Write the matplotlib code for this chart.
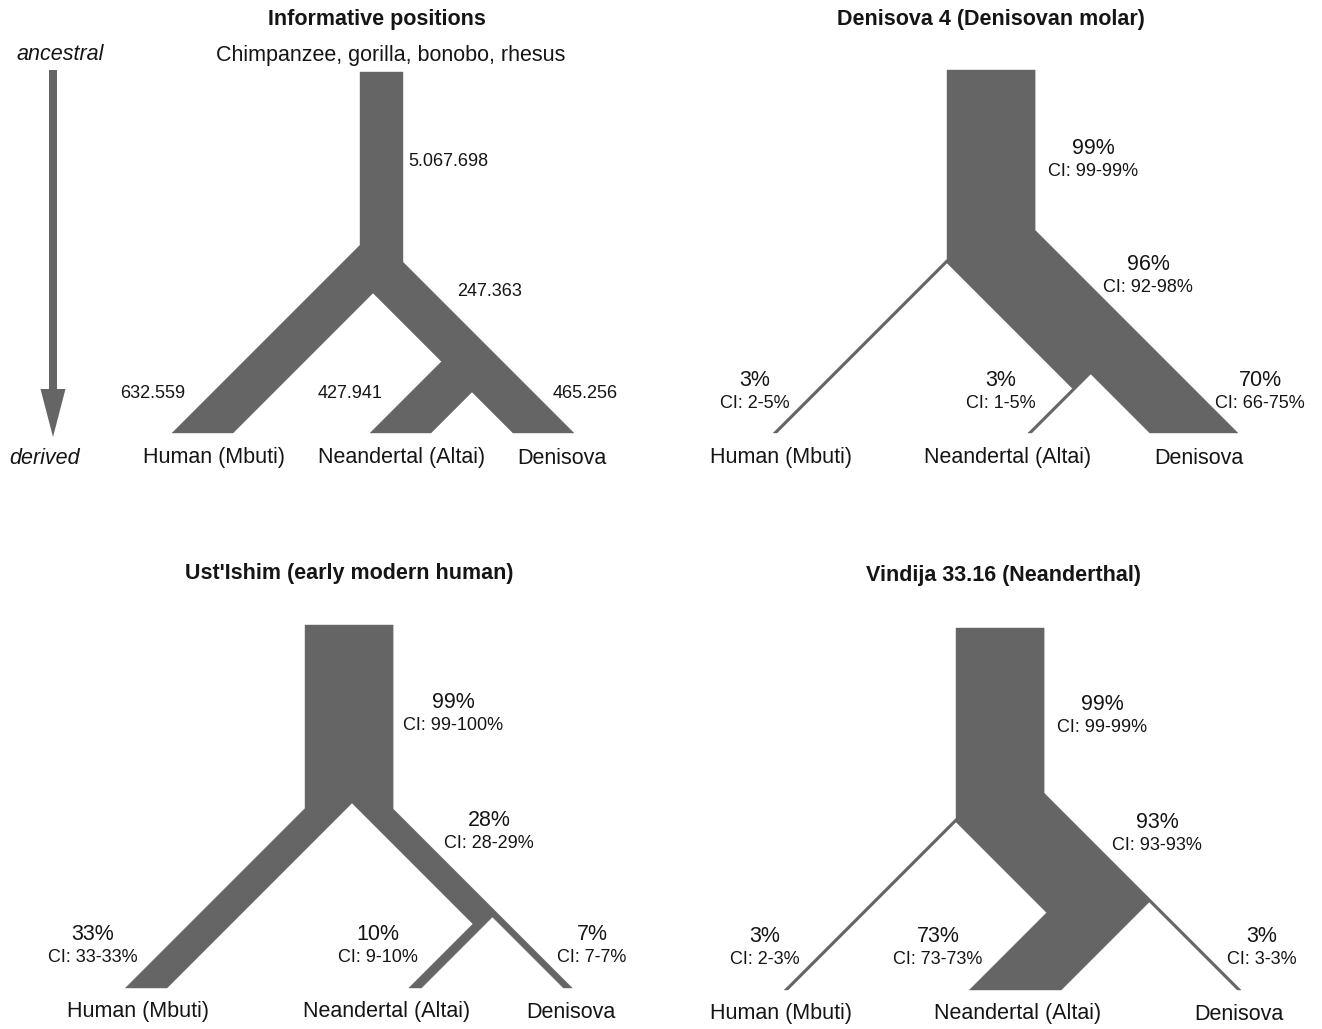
import numpy as np
import matplotlib
matplotlib.use("Agg")
import matplotlib.pyplot as plt
from matplotlib.patches import Polygon, FancyArrow

plt.rcParams['font.family'] = ['Liberation Sans', 'DejaVu Sans']

# ---------------- data ----------------
leaf_names = ["Human (Mbuti)", "Neandertal (Altai)", "Denisova"]
outgroup_label = "Chimpanzee, gorilla, bonobo, rhesus"
panel_titles = ["Informative positions", "Denisova 4 (Denisovan molar)",
                "Ust'Ishim (early modern human)", "Vindija 33.16 (Neanderthal)"]
# edge order: trunk, internal (Neand+Deni), Human, Neandertal, Denisova
informative_counts = [5067698, 247363, 632559, 427941, 465256]
den4_pct = [99, 96, 3, 3, 70]
den4_ci_lo = [99, 92, 2, 1, 66]
den4_ci_hi = [99, 98, 5, 5, 75]
ust_pct = [99, 28, 33, 10, 7]
ust_ci_lo = [99, 28, 33, 9, 7]
ust_ci_hi = [100, 29, 33, 10, 7]
vin_pct = [99, 93, 3, 73, 3]
vin_ci_lo = [99, 93, 2, 73, 3]
vin_ci_hi = [99, 93, 3, 73, 3]

# ---------------- style / layout ----------------
GRAY = '#656565'
TXT = '#151515'
K = 0.89            # px of band width per percent
FIXED_W = 43        # band width for the "informative positions" panel
BIG = 15.5
SMALL = 13

fig = plt.figure(figsize=(13.22, 10.29), dpi=100)
ax = fig.add_axes([0, 0, 1, 1])
ax.set_xlim(0, 1322)
ax.set_ylim(1029, 0)
ax.axis('off')

SQ2 = np.sqrt(2.0)
dL = np.array([-1.0, 1.0])
dR = np.array([1.0, 1.0])
nUL = np.array([-1.0, -1.0]) / SQ2
nUR = np.array([1.0, -1.0]) / SQ2


def intersect(p1, d1, p2, d2):
    A = np.array([d1, -d2]).T
    t, _ = np.linalg.solve(A, p2 - p1)
    return p1 + t * d1


def at_y(p, d, y):
    t = (y - p[1]) / d[1]
    return p + t * d


def draw_tree(xL, top, CA, yB, bottom, widths):
    wT, wAB, wH, wN, wD = widths
    CA = np.array(CA, float)
    vert = np.array([0.0, 1.0])
    # human band
    H_in_p, H_out_p = CA, CA + nUL * wH
    # internal band (to Neand/Deni split)
    AB_in_p, AB_out_p = CA, CA + nUR * wAB
    # denisova band aligned to outer edge of internal band
    D_out_p = AB_out_p
    D_in_p = CA + nUR * (wAB - wD)
    CB = at_y(D_in_p, dR, yB)
    N_in_p, N_out_p = CB, CB + nUL * wN

    T1 = np.array([xL, top])
    T2 = np.array([xL + wT, top])
    P1 = intersect(T1, vert, H_out_p, dL)
    P2 = at_y(H_out_p, dL, bottom)
    P3 = at_y(H_in_p, dL, bottom)
    P4 = intersect(AB_in_p, dR, N_out_p, dL)
    P5 = at_y(N_out_p, dL, bottom)
    P6 = at_y(N_in_p, dL, bottom)
    P7 = at_y(D_in_p, dR, bottom)
    P8 = at_y(D_out_p, dR, bottom)
    P9 = intersect(T2, vert, AB_out_p, dR)
    pts = [T1, P1, P2, P3, CA, P4, P5, P6, CB, P7, P8, P9, T2]
    ax.add_patch(Polygon(pts, closed=True, facecolor=GRAY, edgecolor=GRAY,
                         linewidth=0.3, joinstyle='miter'))


def t(x, y, s, size=BIG, **kw):
    kw.setdefault('ha', 'center')
    kw.setdefault('va', 'center')
    ax.text(x, y, s, fontsize=size, color=TXT, **kw)


def pct_label(x, y, p, lo, hi):
    t(x, y, f"{p}%", BIG)
    t(x, y + 23, f"CI: {lo}-{hi}%", SMALL)


def fmt(v):
    return f"{v:,}".replace(",", ".")


# ---------------- panel 1: informative positions ----------------
draw_tree(360, 72, (373, 293), 392, 433, [FIXED_W] * 5)
ax.add_patch(FancyArrow(53, 70, 0, 367, width=8, head_width=25, head_length=48,
                        length_includes_head=True, facecolor=GRAY, edgecolor='none'))
t(377, 19, panel_titles[0], BIG, fontweight='bold')
t(391, 55, outgroup_label)
t(60, 55, "ancestral", style='italic')
t(45, 458, "derived", style='italic')
t(408, 161, fmt(informative_counts[0]), SMALL, ha='left')
t(457, 292, fmt(informative_counts[1]), SMALL, ha='left')
t(153, 393, fmt(informative_counts[2]), SMALL)
t(350, 393, fmt(informative_counts[3]), SMALL)
t(585, 393, fmt(informative_counts[4]), SMALL)
for x, s in zip([214, 402, 562], leaf_names):
    t(x, 458, s)

# ---------------- panel 2: Denisova 4 ----------------
draw_tree(947, 70, (947, 263), 374, 433, [p * K for p in den4_pct])
t(991, 19, panel_titles[1], BIG, fontweight='bold')
for (x, y), p, lo, hi in zip([(1093, 149), (1148, 265), (755, 380), (1001, 380), (1260, 380)],
                             den4_pct, den4_ci_lo, den4_ci_hi):
    pct_label(x, y, p, lo, hi)
for x, s in zip([781, 1008, 1199], leaf_names):
    t(x, 458, s)

# ---------------- panel 3: Ust'Ishim ----------------
draw_tree(305, 625, (352, 803), 917, 988, [p * K for p in ust_pct])
t(349, 574, panel_titles[2], BIG, fontweight='bold')
for (x, y), p, lo, hi in zip([(453, 703), (489, 820), (93, 935), (378, 935), (592, 935)],
                             ust_pct, ust_ci_lo, ust_ci_hi):
    pct_label(x, y, p, lo, hi)
for x, s in zip([138, 387, 571], leaf_names):
    t(x, 1012, s)

# ---------------- panel 4: Vindija ----------------
draw_tree(956, 628, (956, 822), 902, 990, [p * K for p in vin_pct])
t(1003, 576, panel_titles[3], BIG, fontweight='bold')
for (x, y), p, lo, hi in zip([(1102, 705), (1157, 822), (765, 937), (938, 937), (1262, 937)],
                             vin_pct, vin_ci_lo, vin_ci_hi):
    pct_label(x, y, p, lo, hi)
for x, s in zip([781, 1018, 1239], leaf_names):
    t(x, 1014, s)

fig.savefig("out.png", dpi=100, facecolor='white')
